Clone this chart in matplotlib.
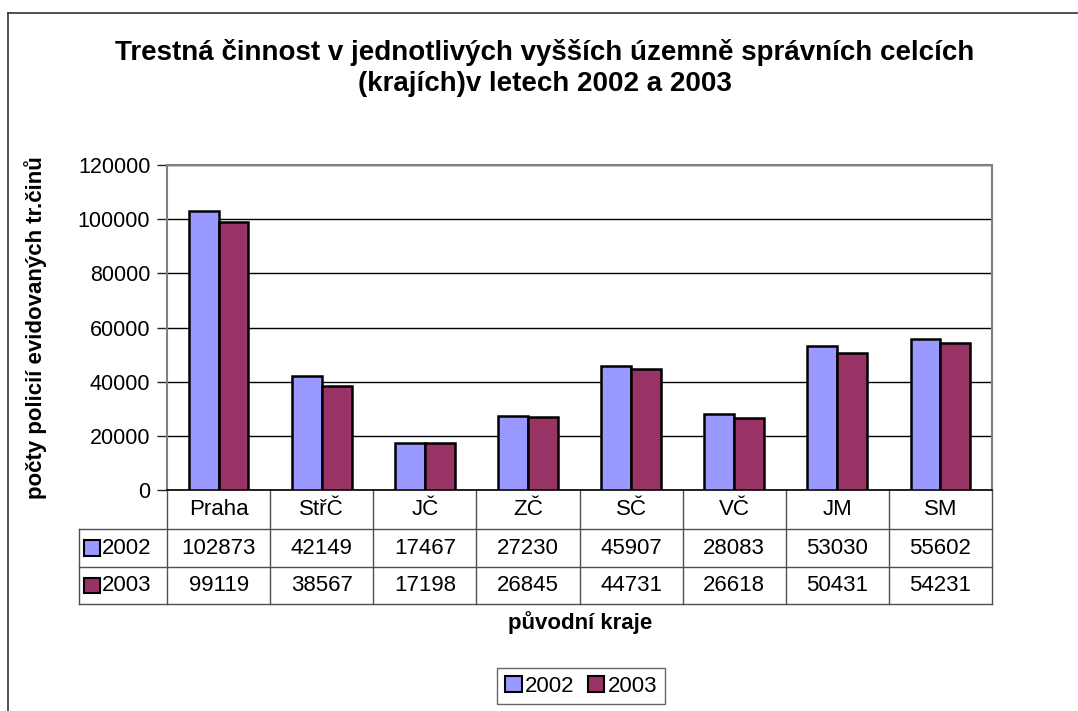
import numpy as np
import matplotlib.pyplot as plt
from matplotlib.patches import Patch, Rectangle
from matplotlib.lines import Line2D
import matplotlib.transforms as mtransforms

plt.rcParams['font.family'] = ['Liberation Sans', 'DejaVu Sans']

# data
kraje = ['Praha', 'StřČ', 'JČ', 'ZČ', 'SČ', 'VČ', 'JM', 'SM']
roky = ['2002', '2003']
hodnoty_2002 = [102873, 42149, 17467, 27230, 45907, 28083, 53030, 55602]
hodnoty_2003 = [99119, 38567, 17198, 26845, 44731, 26618, 50431, 54231]
y_ticks = [0, 20000, 40000, 60000, 80000, 100000, 120000]

barvy = ['#9999FF', '#993366']
W, H = 1078, 711

fig = plt.figure(figsize=(W / 100, H / 100), dpi=100)
ax = fig.add_axes([167 / W, 1 - 490 / H, (992 - 167) / W, (490 - 165) / H])

x = np.arange(len(kraje))
bw = 0.29
ax.bar(x, hodnoty_2002, width=-bw, align='edge', color=barvy[0],
       edgecolor='black', linewidth=1.8, zorder=3)
ax.bar(x, hodnoty_2003, width=bw, align='edge', color=barvy[1],
       edgecolor='black', linewidth=1.8, zorder=3)

ax.set_xlim(-0.5, len(kraje) - 0.5)
ax.set_ylim(0, 120000)
ax.set_yticks(y_ticks)
ax.set_yticklabels([str(v) for v in y_ticks], fontsize=15.5)
ax.tick_params(axis='y', length=7, width=1, color='#222222', pad=5)
ax.set_xticks([])
ax.yaxis.grid(True, color='black', linewidth=1)
ax.set_axisbelow(True)
for s in ['left', 'right', 'top']:
    ax.spines[s].set_color('#808080')
    ax.spines[s].set_linewidth(1.5)
ax.spines['bottom'].set_color('black')
ax.spines['bottom'].set_linewidth(1.2)

ax.set_ylabel('počty policií evidovaných tr.činů', fontsize=16, fontweight='bold')
ax.yaxis.set_label_coords((47 - 167) / (992 - 167), 0.5, transform=ax.transAxes)

# data table under the plot
tr = mtransforms.blended_transform_factory(ax.transData, ax.transAxes)
row_y = [0, -0.12, -0.237, -0.351]
lab_w = 0.853
lc = '#505050'


def line(xs, ys):
    ax.add_line(Line2D(xs, ys, transform=tr, color=lc, linewidth=1, clip_on=False))


x0, x1 = -0.5, len(kraje) - 0.5
for yy in row_y[1:]:
    line([x0 - lab_w, x1], [yy, yy])
for xx in np.arange(x0, x1 + 0.01, 1.0):
    line([xx, xx], [row_y[0], row_y[-1]])
line([x0 - lab_w, x0 - lab_w], [row_y[1], row_y[-1]])

for i, k in enumerate(kraje):
    ax.text(i, (row_y[0] + row_y[1]) / 2, k, transform=tr, ha='center', va='center',
            fontsize=16)
for r, vals in enumerate([hodnoty_2002, hodnoty_2003]):
    yc = (row_y[r + 1] + row_y[r + 2]) / 2
    for i, v in enumerate(vals):
        ax.text(i, yc, str(v), transform=tr, ha='center', va='center', fontsize=16)
    ax.add_patch(Rectangle((x0 - lab_w + 0.05, yc - 0.024), 0.15, 0.048, transform=tr,
                           facecolor=barvy[r], edgecolor='black', linewidth=1.5,
                           clip_on=False))
    ax.text(x0 - lab_w + 0.22, yc, roky[r], transform=tr, ha='left', va='center',
            fontsize=16)

fig.text(580 / W, 1 - 623 / H, 'původní kraje', ha='center', va='center',
         fontsize=16, fontweight='bold')

fig.text(545 / W, 1 - 68 / H,
         'Trestná činnost v jednotlivých vyšších územně správních celcích\n(krajích)v letech 2002 a 2003',
         ha='center', va='center', fontsize=20, fontweight='bold', linespacing=1.27)

handles = [Patch(facecolor=barvy[i], edgecolor='black', linewidth=1.5, label=roky[i])
           for i in range(2)]
leg = fig.legend(handles=handles, loc='center', bbox_to_anchor=(581 / W, 1 - 686 / H),
                 ncol=2, fontsize=16, frameon=True, fancybox=False, handlelength=0.75,
                 handleheight=0.75, handletextpad=0.15, columnspacing=0.6,
                 borderpad=0.35, borderaxespad=0)
leg.get_frame().set_edgecolor('#404040')
leg.get_frame().set_linewidth(1)

# outer chart frame
fig.add_artist(Line2D([8 / W, 8 / W], [0, 1 - 13 / H], transform=fig.transFigure,
                      color='#333333', linewidth=1.2))
fig.add_artist(Line2D([8 / W, 1], [1 - 13 / H, 1 - 13 / H], transform=fig.transFigure,
                      color='#333333', linewidth=1.2))

fig.savefig('out.png', dpi=100, facecolor='white')
